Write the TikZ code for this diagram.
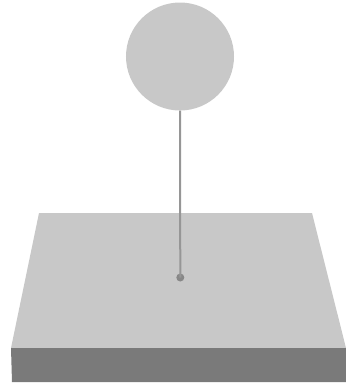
\documentclass[tikz,border=0pt]{standalone}
\usepackage{tikz}
\usetikzlibrary{positioning}
\definecolor{colTop}{RGB}{200,200,200}
\definecolor{colFront}{RGB}{122,122,122}
\definecolor{colPin}{RGB}{150,150,150}

\begin{document}
\begin{tikzpicture}[
    x=0.03cm, y=-0.03cm,
    ball/.style={circle, fill=colTop, inner sep=0pt, minimum size=3.24cm},
    pin/.style={circle, fill=colPin!90!black, inner sep=0pt, minimum size=0.24cm}
]
    \useasboundingbox (0,0) rectangle (346,384);
    % slab
    \fill[colTop] (39,213) -- (312,213) -- (346,348) -- (11,348) -- cycle;
    \fill[colFront] (11,348) -- (346,348) -- (346,382) -- (12,382) -- cycle;

    \node[ball] (head) at (180,56.5) {};
    \node[pin] (foot) at (180.3,277.5) {};

    \draw[colPin, line width=0.06cm] (head.south) -- (foot.center);
\end{tikzpicture}
\end{document}
